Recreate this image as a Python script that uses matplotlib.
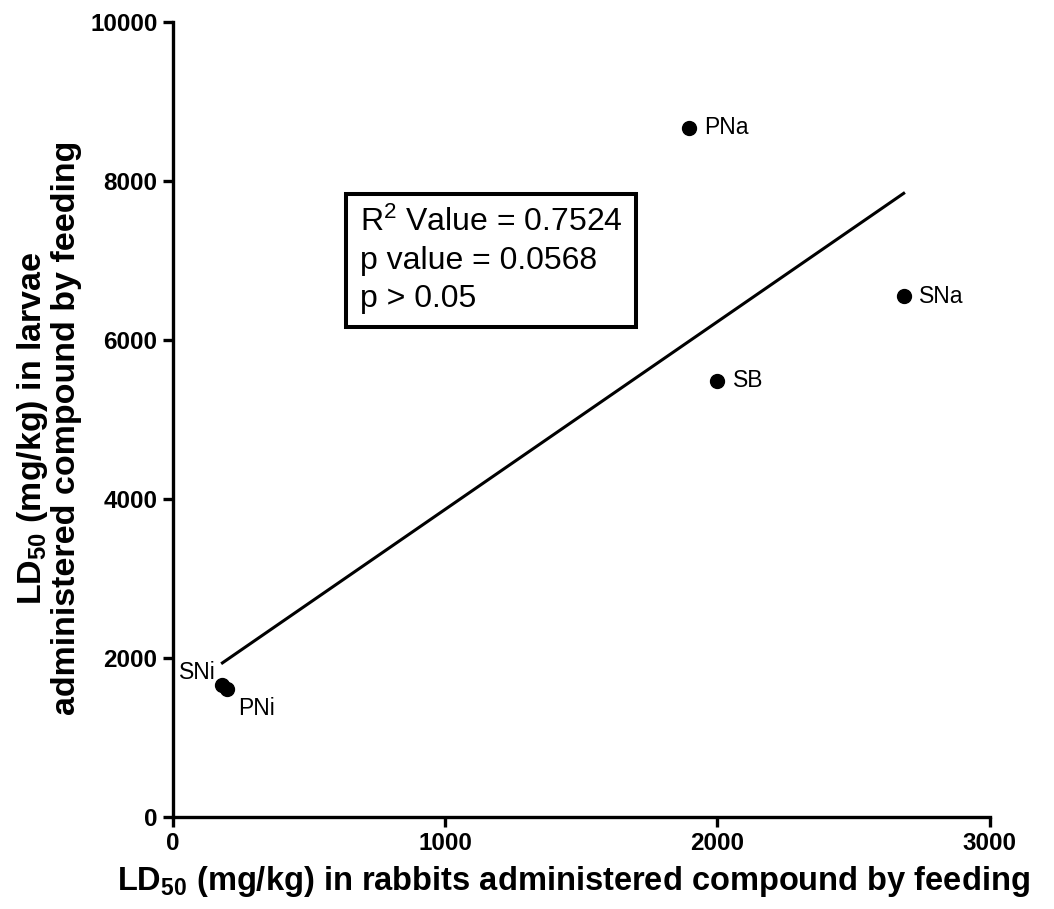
import matplotlib
matplotlib.use("Agg")
import matplotlib.pyplot as plt
import numpy as np

plt.rcParams['font.family'] = ['Liberation Sans', 'DejaVu Sans']
plt.rcParams['mathtext.default'] = 'regular'

# LD50 values (mg/kg) per compound
compounds = ['PNa', 'SNa', 'SB', 'SNi', 'PNi']
ld50_rabbits = [1895, 2684, 2000, 182, 200]
ld50_larvae = [8665, 6550, 5485, 1665, 1612]

r2_value = 0.7524
p_value = 0.0568

x = np.array(ld50_rabbits, dtype=float)
y = np.array(ld50_larvae, dtype=float)
slope, intercept = np.polyfit(x, y, 1)
xfit = np.array([x.min(), x.max()])

fig = plt.figure(figsize=(10.54, 9.09), dpi=100)
ax = fig.add_axes([0.164, 0.101, 0.775, 0.875])

ax.plot(xfit, slope * xfit + intercept, color='black', lw=2.2, zorder=2)
ax.plot(x, y, 'o', color='black', ms=10, zorder=3)

# point labels
offsets = {'PNa': (11, 0, 'left'), 'SNa': (11, 0, 'left'), 'SB': (11, 0, 'left'),
           'SNi': (-5, 9, 'right'), 'PNi': (8, -14, 'left')}
for name, xi, yi in zip(compounds, x, y):
    dx, dy, ha = offsets[name]
    ax.annotate(name, (xi, yi), xytext=(dx, dy), textcoords='offset points',
                ha=ha, va='center', fontsize=16.5)

ax.text(0.229, 0.70,
        f"R$^2$ Value = {r2_value}\np value = {p_value}\np > 0.05",
        transform=ax.transAxes, fontsize=23, va='center', ha='left',
        linespacing=1.33,
        bbox=dict(boxstyle='square,pad=0.42', fc='white', ec='black', lw=2.9))

ax.set_xlim(0, 3000)
ax.set_ylim(0, 10000)
ax.set_xticks([0, 1000, 2000, 3000])
ax.set_yticks([0, 2000, 4000, 6000, 8000, 10000])

for side in ['top', 'right']:
    ax.spines[side].set_visible(False)
for side in ['left', 'bottom']:
    ax.spines[side].set_linewidth(2.4)
ax.tick_params(width=2.4, length=7, labelsize=17.5, pad=4)
for lab in ax.get_xticklabels() + ax.get_yticklabels():
    lab.set_fontweight('bold')

ax.set_xlabel("LD$_{50}$ (mg/kg) in rabbits administered compound by feeding",
              fontsize=23.5, fontweight='bold', labelpad=6)
ax.set_ylabel("LD$_{50}$ (mg/kg) in larvae\nadministered compound by feeding",
              fontsize=24.5, fontweight='bold', labelpad=6, linespacing=1.05)
ax.xaxis.label.set_x(0.49)
ax.yaxis.label.set_y(0.489)

fig.savefig('out.png', dpi=100)
